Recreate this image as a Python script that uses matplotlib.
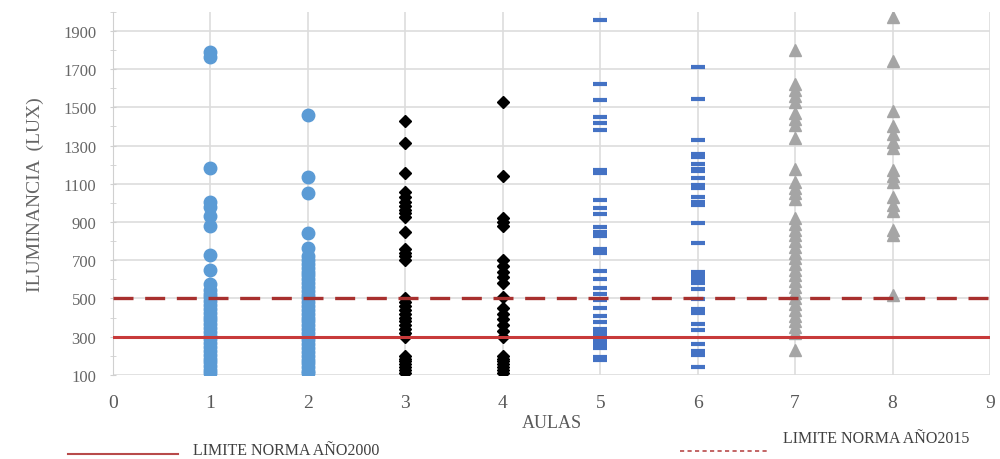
import matplotlib.pyplot as plt
from matplotlib.lines import Line2D
from matplotlib.ticker import MultipleLocator

plt.rcParams['font.family'] = ['Liberation Serif', 'DejaVu Serif']

# Iluminancia medida en cada aula (lux)
aula1 = [1790, 1765, 1185, 1005, 980, 930, 880, 725, 650, 575, 545, 525, 505, 485,
         465, 445, 425, 405, 385, 365, 345, 325, 305, 285, 265, 245, 225, 205, 185,
         165, 145, 125, 110]
aula2 = [1460, 1135, 1050, 845, 765, 720, 700, 680, 660, 640, 620, 600, 580, 560,
         540, 520, 500, 480, 460, 440, 420, 400, 380, 360, 340, 320, 300, 280, 260,
         240, 220, 200, 180, 160, 140, 120, 110]
aula3 = [1430, 1315, 1155, 1055, 1030, 1005, 985, 965, 945, 925, 850, 760, 740, 720,
         700, 500, 480, 460, 440, 420, 400, 380, 360, 340, 320, 300, 200, 185, 170,
         155, 140, 125, 110]
aula4 = [1530, 1140, 920, 900, 880, 700, 670, 640, 610, 580, 510, 450, 420, 390, 360,
         330, 300, 200, 185, 170, 155, 140, 125, 110]
aula5 = [1955, 1620, 1540, 1450, 1420, 1380, 1170, 1155, 1015, 975, 940, 875, 850,
         825, 760, 740, 645, 600, 555, 525, 490, 450, 410, 375, 340, 320, 300, 280,
         260, 240, 195, 175]
aula6 = [1710, 1545, 1330, 1255, 1240, 1205, 1180, 1165, 1130, 1095, 1080, 1030, 1005,
         990, 895, 790, 640, 620, 600, 580, 550, 495, 445, 425, 365, 335, 260, 225,
         205, 140]
aula7 = [1800, 1620, 1590, 1560, 1530, 1470, 1440, 1410, 1340, 1180, 1110, 1080, 1050,
         1020, 920, 890, 860, 830, 800, 770, 740, 710, 680, 650, 620, 590, 560, 530,
         500, 470, 440, 410, 380, 350, 320, 230]
aula8 = [1975, 1745, 1480, 1400, 1360, 1320, 1290, 1170, 1140, 1110, 1030, 990, 960,
         860, 830, 520]

limite_2000 = 300
limite_2015 = 500

fig = plt.figure(figsize=(10, 4.6), dpi=100)
ax = fig.add_axes([0.113, 0.183, 0.877, 0.789])

blue_c = '#5B9BD5'
blue_d = '#4472C4'
gray_t = '#A5A5A5'

ax.plot([1] * len(aula1), aula1, 'o', color=blue_c, ms=9, mec=blue_c, zorder=3)
ax.plot([2] * len(aula2), aula2, 'o', color=blue_c, ms=9, mec=blue_c, zorder=3)
ax.plot([3] * len(aula3), aula3, 'D', color='black', ms=6.5, zorder=3)
ax.plot([4] * len(aula4), aula4, 'D', color='black', ms=6.5, zorder=3)
ax.plot([5] * len(aula5), aula5, '_', color=blue_d, ms=10, mew=3, zorder=3)
ax.plot([6] * len(aula6), aula6, '_', color=blue_d, ms=10, mew=3, zorder=3)
ax.plot([7] * len(aula7), aula7, '^', color=gray_t, ms=9, zorder=3)
ax.plot([8] * len(aula8), aula8, '^', color=gray_t, ms=9, zorder=3)

ax.axhline(limite_2000, color='#C83A3A', lw=2.2, zorder=4)
ax.axhline(limite_2015, color='#A8302E', lw=2.4, ls=(0, (6, 3.5)), zorder=4)

ax.set_xlim(0, 9)
ax.set_ylim(100, 2000)
ax.xaxis.set_major_locator(MultipleLocator(1))
ax.set_yticks(range(100, 2000, 200))
ax.yaxis.set_minor_locator(MultipleLocator(100))
ax.grid(True, which='major', color='#DDDDDD', lw=1.2, zorder=0)

for s in ['top', 'right', 'bottom']:
    ax.spines[s].set_visible(False)
ax.spines['left'].set_color('#D0D0D0')
ax.tick_params(axis='x', length=0, labelsize=14, labelcolor='#595959', pad=14)
ax.tick_params(axis='y', which='major', length=4, color='#D0D0D0', direction='inout',
               labelsize=12, labelcolor='#666666', pad=10)
ax.tick_params(axis='y', which='minor', length=4, color='#D0D0D0', direction='inout')

ax.set_xlabel('AULAS', fontsize=13, color='#595959', labelpad=2)
ax.set_ylabel('ILUMINANCIA  (LUX)', fontsize=14, color='#666666', labelpad=14)

# leyenda inferior
fig.add_artist(Line2D([0.068, 0.178], [0.011, 0.011], color='#B84A4A', lw=1.5))
fig.text(0.193, 0.02, 'LIMITE NORMA AÑO2000', fontsize=11.5, color='#404040',
         va='center', ha='left')
fig.add_artist(Line2D([0.68, 0.77], [0.018, 0.018], color='#B84A4A', lw=1.2,
                      ls=(0, (2.5, 2))))
fig.text(0.783, 0.045, 'LIMITE NORMA AÑO2015', fontsize=11.5, color='#404040',
         va='center', ha='left')

fig.savefig('out.png', dpi=100)
